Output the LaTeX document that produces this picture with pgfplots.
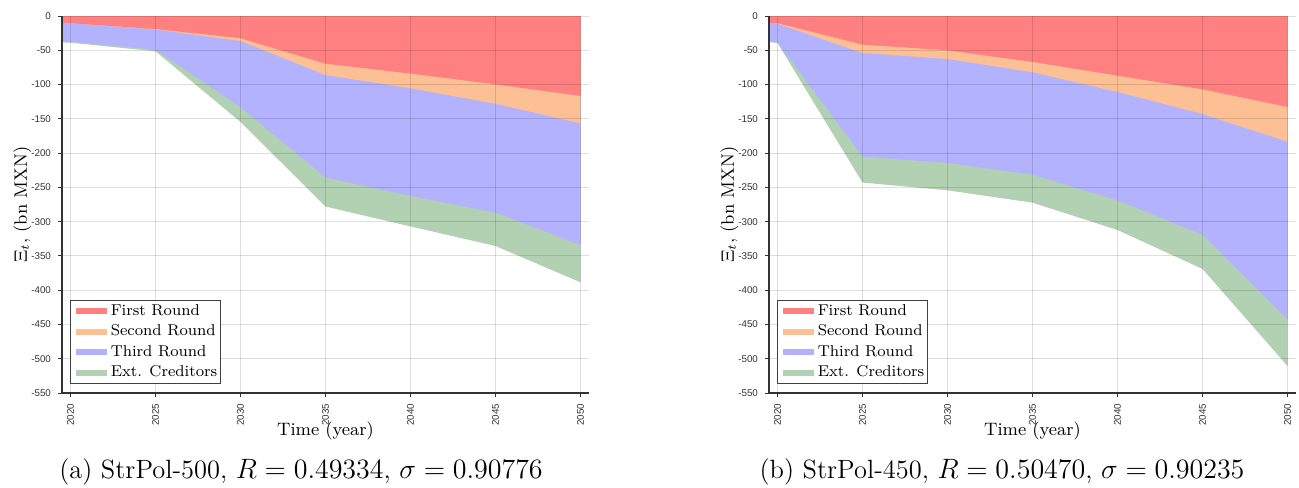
\documentclass[border=0pt]{standalone}
\usepackage{pgfplots}
\pgfplotsset{compat=1.18}
\usepackage{pgfplotstable}
\usepackage{graphicx}
\usepackage{fontspec}
\newfontfamily\tickfont{Liberation Sans}
\definecolor{cred}{HTML}{FF8080}
\definecolor{corange}{HTML}{FDC094}
\definecolor{cblue}{HTML}{B2B2FF}
\definecolor{cgreen}{HTML}{B2D1B2}

\pgfplotstableread{
x b1 b2 b3 b4
2019.5 -9.8 -10 -37 -38.5
2020 -10.5 -10.7 -37.5 -39
2025 -19 -19.5 -49 -51.5
2030 -32.5 -36.5 -133 -154.5
2035 -69.5 -86 -235.5 -278
2040 -84 -105.5 -262.5 -307
2045 -99.7 -128 -286.8 -335.5
2050 -116.7 -156.5 -334 -388.5
}\dataA

\pgfplotstableread{
x b1 b2 b3 b4
2019.5 -9.8 -10 -37 -38
2020 -10.5 -11 -38.5 -39.5
2025 -41.8 -54 -205 -243
2030 -50 -62.7 -214.4 -254.3
2035 -67 -82 -231.4 -272.3
2040 -87 -110.8 -268.9 -312.2
2045 -107 -143 -319 -369
2050 -132.7 -183.3 -442.5 -510.6
}\dataB

\pgfplotsset{
  mystyle/.style={
    scale only axis, width=263.5pt, height=188.5pt, anchor=south west,
    xmin=2019.5, xmax=2050.5, ymin=-550, ymax=0,
    xtick={2020,2025,2030,2035,2040,2045,2050},
    xticklabels={2020,2025,2030,2035,2040,2045,2050},
    ytick={-550,-500,-450,-400,-350,-300,-250,-200,-150,-100,-50,0},
    yticklabels={-550,-500,-450,-400,-350,-300,-250,-200,-150,-100,-50,0},
    x tick label style={rotate=90, anchor=east, font=\tickfont\fontsize{4.9}{5}\selectfont, text=black!80},
    y tick label style={anchor=east, font=\tickfont\fontsize{4.9}{5}\selectfont, text=black!80},
    grid=major, major grid style={black, opacity=0.13, line width=0.5pt},
    axis x line*=bottom, axis y line*=left,
    axis line style={-, black!80, line width=0.6pt},
    tick style={black!80, line width=0.5pt}, tick align=outside, major tick length=2pt,
    axis on top,
    xlabel={Time (year)}, ylabel={$\Xi_t$, (bn MXN)},
    label style={font=\fontsize{9}{10}\selectfont},
    xlabel style={at={(axis description cs:0.5,-0.102)}, anchor=center},
    ylabel style={at={(axis description cs:-0.075,0.5)}, anchor=center},
    legend style={at={(axis description cs:0.0152,0.023)}, anchor=south west,
      font=\fontsize{7.85}{8.2}\selectfont, draw=black!75, line width=0.6pt,
      inner sep=1pt, row sep=1.5pt, cells={anchor=west},
      nodes={inner xsep=0.6pt, inner ysep=0.9pt}},
    legend cell align=left,
  },
  limg/.style={#1, line width=3pt, legend image code/.code={\draw[##1] (0pt,0pt) -- (15.5pt,0pt);}},
}

\begin{document}
\begin{tikzpicture}
\useasboundingbox (0,0) rectangle (649.5pt,243.5pt);
\begin{axis}[mystyle, at={(31pt,47pt)}]
\addplot[fill=cgreen, draw=none, forget plot] table[x=x,y=b4]{\dataA} \closedcycle;
\addplot[fill=cblue, draw=none, forget plot] table[x=x,y=b3]{\dataA} \closedcycle;
\addplot[fill=corange, draw=none, forget plot] table[x=x,y=b2]{\dataA} \closedcycle;
\addplot[fill=cred, draw=none, forget plot] table[x=x,y=b1]{\dataA} \closedcycle;
\addlegendimage{limg=cred}\addlegendentry{First Round}
\addlegendimage{limg=corange}\addlegendentry{Second Round}
\addlegendimage{limg=cblue}\addlegendentry{Third Round}
\addlegendimage{limg=cgreen}\addlegendentry{Ext. Creditors}
\end{axis}
\begin{axis}[mystyle, at={(384.5pt,47pt)}]
\addplot[fill=cgreen, draw=none, forget plot] table[x=x,y=b4]{\dataB} \closedcycle;
\addplot[fill=cblue, draw=none, forget plot] table[x=x,y=b3]{\dataB} \closedcycle;
\addplot[fill=corange, draw=none, forget plot] table[x=x,y=b2]{\dataB} \closedcycle;
\addplot[fill=cred, draw=none, forget plot] table[x=x,y=b1]{\dataB} \closedcycle;
\addlegendimage{limg=cred}\addlegendentry{First Round}
\addlegendimage{limg=corange}\addlegendentry{Second Round}
\addlegendimage{limg=cblue}\addlegendentry{Third Round}
\addlegendimage{limg=cgreen}\addlegendentry{Ext. Creditors}
\end{axis}
\node[font=\fontsize{13.6}{15}\selectfont, anchor=base] at (150.5pt,4.4pt) {\scalebox{0.972}{(a) StrPol-500, $R = 0.49334$, $\sigma = 0.90776$}};
\node[font=\fontsize{13.6}{15}\selectfont, anchor=base] at (501pt,4.4pt) {\scalebox{0.972}{(b) StrPol-450, $R = 0.50470$, $\sigma = 0.90235$}};
\end{tikzpicture}
\end{document}
